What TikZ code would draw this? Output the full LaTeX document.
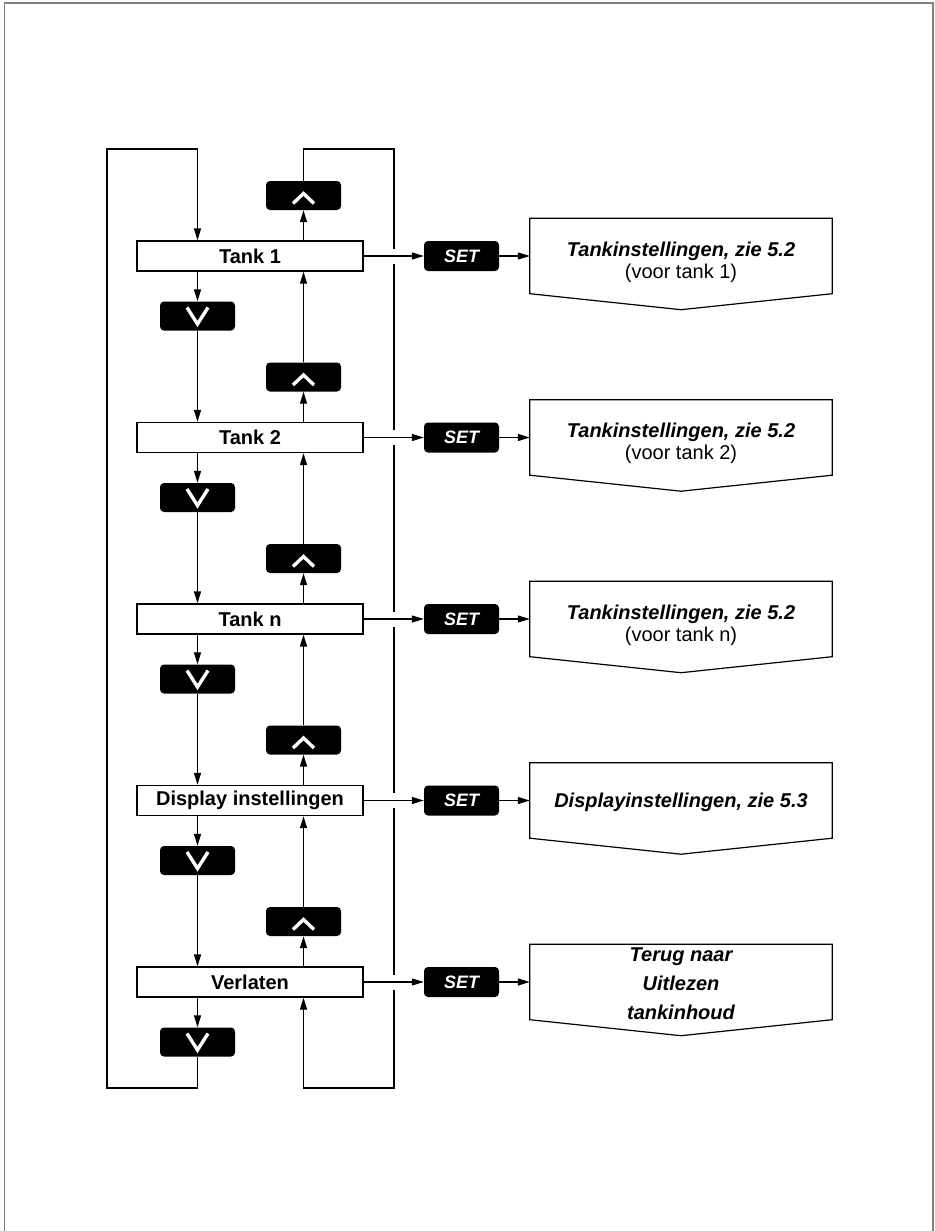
\documentclass[tikz,border=0pt]{standalone}
\usepackage{fontspec}
\setmainfont{Liberation Sans}
\usetikzlibrary{arrows.meta,calc}
\tikzset{
 ln/.style={line width=1.3pt, black},
 arr/.style={ln, -{Triangle[length=12pt,width=7pt]}},
 tankbox/.style={draw, line width=1.3pt, fill=white, minimum width=226pt, minimum height=30pt, inner sep=0pt, font=\bfseries\fontsize{20}{24}\selectfont},
 btn/.style={fill=black, rounded corners=4pt, minimum width=75pt, minimum height=29pt, inner sep=0pt},
 setbtn/.style={btn, minimum height=30pt, text=white, font=\bfseries\itshape\fontsize{18}{22}\selectfont},
 chev/.style={white, line width=3.4pt, miter limit=10},
 tbox/.style={inner sep=0pt, minimum width=302pt, minimum height=75pt},
 ttl/.style={anchor=base, inner sep=0pt, font=\bfseries\itshape\fontsize{20}{24}\selectfont},
 sub/.style={anchor=base, inner sep=0pt, font=\fontsize{20}{24}\selectfont},
 border/.style={line width=1.5pt, color=gray}
}
\begin{document}
\begin{tikzpicture}[x=1pt,y=-1pt]
\useasboundingbox (0,0) rectangle (934,1231);
\draw[border] (4.5,1231) -- (4.5,3.2) -- (933.2,3.2) -- (933.2,1231);

\foreach \k/\yy/\lab in {1/256/Tank 1, 2/437.5/Tank 2, 3/619/Tank n, 4/800.5/Display instellingen, 5/982/Verlaten} {
  \node[tankbox] (t\k) at (250,\yy) {\lab};
  \node[btn] (d\k) at (197.5,\yy+60) {};
  \node[btn] (u\k) at (303.5,\yy-60.5) {};
  \node[setbtn] (s\k) at (461.5,\yy) {SET};
  \node[tbox] (r\k) at (681,\yy) {};
}

\foreach \k in {1,...,5} {
  \draw[chev] ($(d\k)+(-10.5,-8.5)$) -- ($(d\k)+(0,8)$) -- ($(d\k)+(10.5,-8.5)$);
  \draw[chev] ($(u\k)+(-10.5,8)$) -- ($(u\k)+(0,-2)$) -- ($(u\k)+(10.5,8)$);
  \draw[ln, line width=1.2pt] (r\k.north west) -- (r\k.north east) -- (r\k.south east) -- ($(r\k.south)+(0,16)$) -- (r\k.south west) -- cycle;
  \draw[arr] (d\k |- t\k.south) -- (d\k.north);
  \draw[arr] (u\k |- t\k.north) -- (u\k.south);
}
\foreach \k [evaluate=\k as \m using int(\k+1)] in {1,...,4} {
  \draw[arr] (d\k.south) -- (d\k |- t\m.north);
  \draw[arr] (u\m.north) -- (u\m |- t\k.south);
}

\coordinate (lb) at (107,1088);
\coordinate (lt) at (107,149);
\coordinate (rt) at (394,149);
\coordinate (rb) at (394,1088);
\draw[arr] (d5.south) |- (lb) -- (lt) -| (d1 |- t1.north);
\draw[arr] (u1.north) |- (rt) -- (rb) -| (u5 |- t5.south);

\foreach \k in {1,...,5} {
  \draw[white, line width=3pt] ($(rt |- t\k.east)+(0,-7.5)$) -- ($(rt |- t\k.east)+(0,7.5)$);
  \draw[arr] (t\k.east) -- (s\k.west);
  \draw[arr] (s\k.east) -- (r\k.west);
}

\foreach \k/\m in {1/1,2/2,3/n} {
  \node[ttl] (a\k) at ($(r\k)+(0,0)$) {Tankinstellingen, zie 5.2};
  \node[sub] (b\k) at ($(r\k)+(0,22)$) {(voor tank \m)};
}
\node[ttl] (a4) at ($(r4)+(0,7)$) {Displayinstellingen, zie 5.3};
\node[ttl] (a5) at ($(r5)+(0,-21)$) {Terug naar};
\node[ttl] (b5) at ($(r5)+(0,8)$) {Uitlezen};
\node[ttl] (c5) at ($(r5)+(0,37)$) {tankinhoud};
\end{tikzpicture}
\end{document}
